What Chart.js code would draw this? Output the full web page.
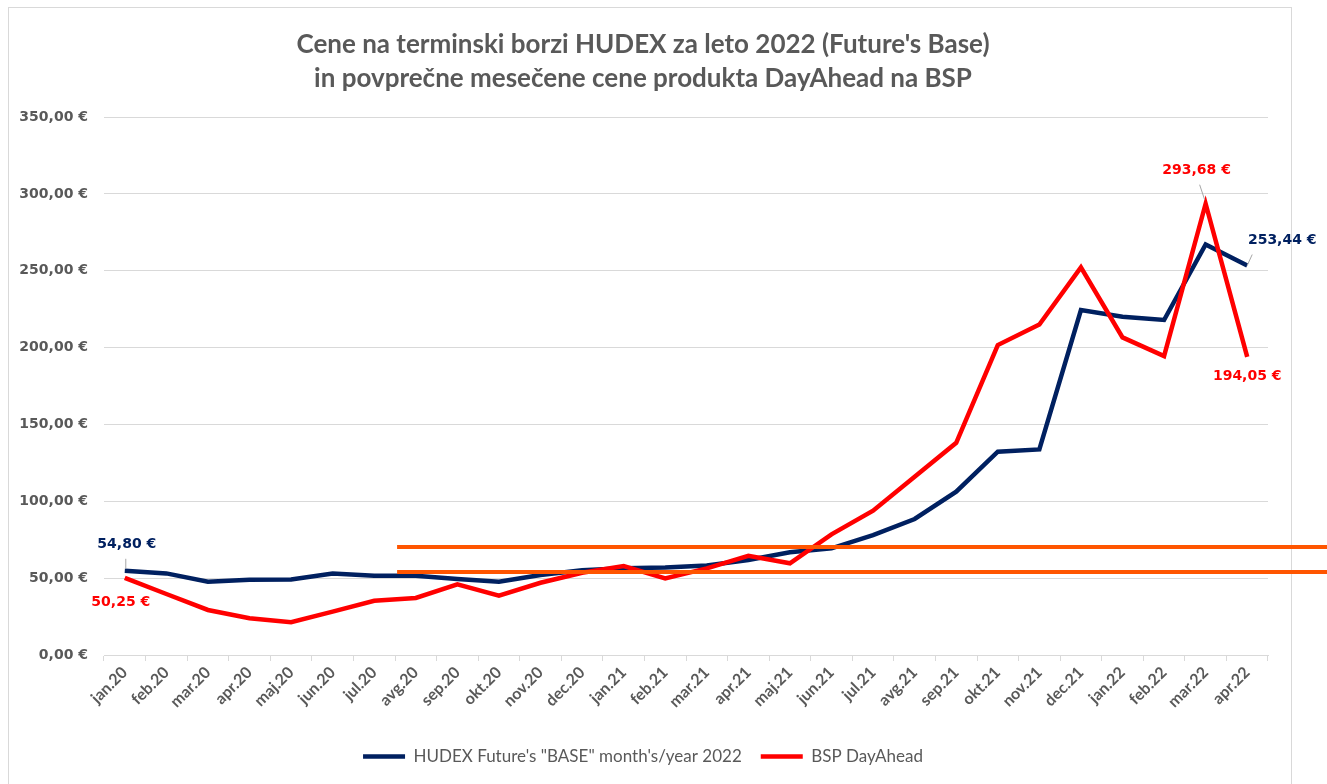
<!DOCTYPE html>
<html>
<head>
<meta charset="utf-8">
<title>HUDEX in BSP</title>
<script src="https://cdn.jsdelivr.net/npm/chart.js@4.4.1/dist/chart.umd.min.js"></script>
<style>
    html, body { margin: 0; padding: 0; background: #ffffff; }
    #okvir { width: 1327px; height: 784px; }
</style>
</head>
<body>
<div id="okvir"><canvas id="graficaCene" width="1327" height="784"></canvas></div>
<script>
const meseci = [
    'jan.20', 'feb.20', 'mar.20', 'apr.20', 'maj.20', 'jun.20', 'jul.20', 'avg.20', 'sep.20', 'okt.20', 'nov.20', 'dec.20',
    'jan.21', 'feb.21', 'mar.21', 'apr.21', 'maj.21', 'jun.21', 'jul.21', 'avg.21', 'sep.21', 'okt.21', 'nov.21', 'dec.21',
    'jan.22', 'feb.22', 'mar.22', 'apr.22'
];
const hudexBase = [
    54.80, 53.1, 47.7, 49.0, 49.2, 53.1, 51.6, 51.6, 49.4, 47.7, 52.0, 55.1,
    56.4, 57.0, 58.3, 61.8, 66.8, 69.4, 78.0, 88.5, 106.3, 132.3, 133.8, 224.5,
    220.1, 218.0, 267.2, 253.44
];
const bspDayAhead = [
    50.25, 39.7, 29.3, 23.9, 21.3, 28.2, 35.3, 37.1, 46.0, 38.6, 47.0, 53.5,
    57.9, 49.9, 56.4, 64.6, 59.7, 78.5, 93.9, 116.0, 138.1, 201.7, 215.1, 252.2,
    206.7, 194.5, 293.68, 194.05
];
const mejniCeni = [70, 54];
const osY = { min: 0, max: 350, korak: 50 };

const SIVA = '#595959';
const MODRA = '#002060';
const RDECA = '#ff0000';
const ORANZNA = '#ff5500';

function evro(v) {
    return v.toFixed(2).replace('.', ',') + ' €';
}

// oznake vrednosti ob izbranih tockah
const oznake = [
    { ds: 0, i: 0, dx: 2, dy: -26, vodilo: [1, -2, 1, -12] },
    { ds: 1, i: 0, dx: -4, dy: 25 },
    { ds: 1, i: 26, dx: -9, dy: -33, vodilo: [-6, -19, -1, -4] },
    { ds: 0, i: 27, dx: 35, dy: -25, vodilo: [5, -11, 0, 0] },
    { ds: 1, i: 27, dx: 0, dy: 20 }
];

const okvirPlugin = {
    id: 'okvir',
    beforeDraw(chart) {
        const ctx = chart.ctx;
        ctx.save();
        ctx.fillStyle = '#ffffff';
        ctx.fillRect(0, 0, chart.width, chart.height);
        ctx.strokeStyle = '#d9d9d9';
        ctx.lineWidth = 1;
        ctx.strokeRect(8.5, 7.5, 1283, chart.height + 10);
        ctx.restore();
    }
};

const dodatkiPlugin = {
    id: 'dodatki',
    afterDraw(chart) {
        const ctx = chart.ctx;
        const x = chart.scales.x;
        const y = chart.scales.y;
        ctx.save();

        // vodoravni crti
        ctx.strokeStyle = ORANZNA;
        ctx.lineWidth = 4;
        const zacetek = x.getPixelForValue(6.55);
        mejniCeni.forEach(function(v) {
            const py = Math.round(y.getPixelForValue(v));
            ctx.beginPath();
            ctx.moveTo(zacetek, py);
            ctx.lineTo(chart.width, py);
            ctx.stroke();
        });

        // oznake
        ctx.font = 'bold 14px "DejaVu Sans"';
        ctx.textAlign = 'center';
        ctx.textBaseline = 'middle';
        oznake.forEach(function(o) {
            const ds = chart.data.datasets[o.ds];
            const v = ds.data[o.i];
            const px = x.getPixelForValue(o.i);
            const py = y.getPixelForValue(v);
            if (o.vodilo) {
                ctx.strokeStyle = '#a6a6a6';
                ctx.lineWidth = 1;
                ctx.beginPath();
                ctx.moveTo(px + o.vodilo[0], py + o.vodilo[1]);
                ctx.lineTo(px + o.vodilo[2], py + o.vodilo[3]);
                ctx.stroke();
            }
            ctx.fillStyle = ds.borderColor;
            ctx.fillText(evro(v), px + o.dx, py + o.dy);
        });
        ctx.restore();
    }
};

document.addEventListener('DOMContentLoaded', function() {
    const ctxCene = document.getElementById('graficaCene');
    new Chart(ctxCene, {
        type: 'line',
        data: {
            labels: meseci,
            datasets: [{
                label: 'HUDEX Future\'s "BASE" month\'s/year 2022',
                data: hudexBase,
                borderColor: MODRA,
                backgroundColor: MODRA,
                borderWidth: 4.5,
                pointRadius: 0,
                tension: 0,
                order: 1
            }, {
                label: 'BSP DayAhead',
                data: bspDayAhead,
                borderColor: RDECA,
                backgroundColor: RDECA,
                borderWidth: 4.5,
                pointRadius: 0,
                tension: 0,
                order: 0
            }]
        },
        options: {
            responsive: false,
            animation: false,
            devicePixelRatio: 1,
            layout: {
                padding: { top: 10, right: 59, bottom: 9, left: 18 }
            },
            scales: {
                x: {
                    offset: true,
                    grid: {
                        display: true,
                        drawOnChartArea: false,
                        offset: true,
                        tickLength: 6,
                        color: '#d9d9d9'
                    },
                    border: { color: '#d9d9d9', width: 1 },
                    ticks: {
                        autoSkip: false,
                        maxRotation: 45,
                        minRotation: 45,
                        padding: 2,
                        color: SIVA,
                        font: { family: 'Lato', size: 16, weight: 'bold' }
                    },
                    afterFit: function(s) { s.height = 74; }
                },
                y: {
                    min: osY.min,
                    max: osY.max,
                    grid: {
                        color: '#d9d9d9',
                        drawTicks: false
                    },
                    border: { display: false },
                    ticks: {
                        stepSize: osY.korak,
                        padding: 16,
                        color: SIVA,
                        font: { family: 'DejaVu Sans', size: 14, weight: 'bold' },
                        callback: function(v) { return evro(v); }
                    },
                    afterFit: function(s) { s.width = 86; }
                }
            },
            plugins: {
                title: {
                    display: true,
                    text: [
                        'Cene na terminski borzi HUDEX za leto 2022 (Future\'s Base)',
                        'in povprečne mesečene cene produkta DayAhead na BSP'
                    ],
                    color: SIVA,
                    font: { family: 'Lato', size: 26, weight: 'bold', lineHeight: 1.33 },
                    padding: { top: 17, bottom: 21 }
                },
                legend: {
                    position: 'bottom',
                    labels: {
                        boxWidth: 42,
                        boxHeight: 0,
                        padding: 19,
                        color: SIVA,
                        font: { family: 'Lato', size: 17 },
                        sort: function(a, b) { return a.datasetIndex - b.datasetIndex; }
                    }
                },
                tooltip: { enabled: false }
            }
        },
        plugins: [okvirPlugin, dodatkiPlugin]
    });
});
</script>
</body>
</html>
